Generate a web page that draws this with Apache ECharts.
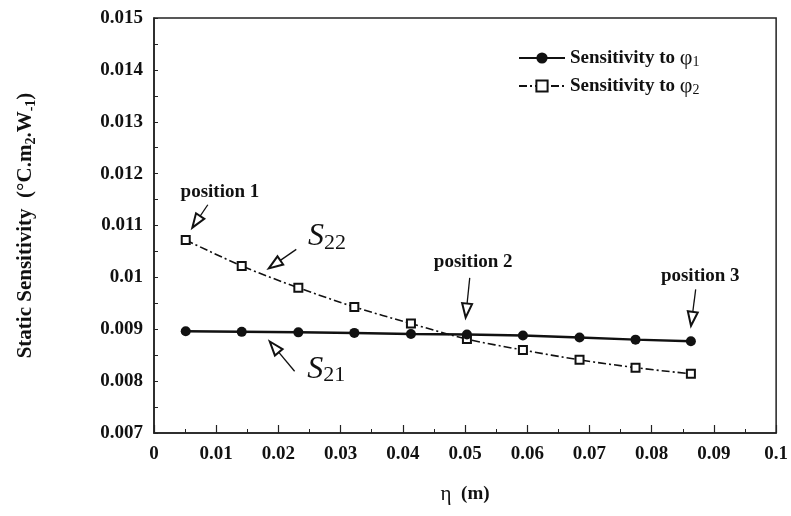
<!DOCTYPE html>
<html>
<head>
<meta charset="utf-8">
<script src="https://cdn.jsdelivr.net/npm/echarts@6/dist/echarts.min.js"></script>
<style>
html,body{margin:0;padding:0;background:#fff;}
#chart{width:791px;height:516px;}
</style>
</head>
<body>
<div id="chart"></div>
<script>
// ---- data ----
const etaValues = [0.0051, 0.0141, 0.0232, 0.0322, 0.0413, 0.0503, 0.0593, 0.0684, 0.0774, 0.0863];
const s21Values = [0.00896, 0.00895, 0.00894, 0.00893, 0.00891, 0.00890, 0.00888, 0.00884, 0.00880, 0.00877];
const s22Values = [0.01072, 0.01022, 0.00980, 0.00943, 0.00911, 0.00881, 0.00860, 0.00841, 0.00826, 0.00814];
const seriesNames = ['Sensitivity to φ1', 'Sensitivity to φ2'];
const xTicks = {min: 0, max: 0.1, interval: 0.01};
const yTicks = {min: 0.007, max: 0.015, interval: 0.001};
// annotation text & anchor points (data coordinates)
const annoTexts = ['position 1', 'position 2', 'position 3'];
const annoTextAt = [[0.0106, 0.01165], [0.0513, 0.01030], [0.0878, 0.01003]];
const arrowFrom = [[0.00865, 0.01140], [0.05075, 0.00999], [0.08707, 0.00977], [0.02287, 0.01054], [0.0226, 0.00819]];
const arrowTo   = [[0.00679, 0.01107], [0.05021, 0.00936], [0.08646, 0.00920], [0.01938, 0.01025], [0.01933, 0.00866]];
const sLabels = [['S', '22'], ['S', '21']];
const sLabelAt = [[0.0278, 0.01078], [0.0277, 0.00822]];

const serif = '"Liberation Serif", "DejaVu Serif", serif';
const chart = echarts.init(document.getElementById('chart'));

const pairs = (xs, ys) => xs.map((x, i) => [x, ys[i]]);

const markPointData = [];
annoTexts.forEach((t, i) => {
  markPointData.push({coord: annoTextAt[i], label: {formatter: t, fontFamily: serif, fontWeight: 'bold', fontSize: 19, color: '#111'}});
});
sLabels.forEach((s, i) => {
  markPointData.push({coord: sLabelAt[i], label: {
    formatter: '{s|' + s[0] + '}{n|' + s[1] + '}',
    rich: {
      s: {fontFamily: serif, fontStyle: 'italic', fontSize: 32, lineHeight: 34, color: '#111'},
      n: {fontFamily: serif, fontSize: 22, lineHeight: 19, verticalAlign: 'bottom', color: '#111'}
    }
  }});
});

const markLineData = arrowFrom.map((f, i) => [{coord: f}, {coord: arrowTo[i]}]);

const option = {
  animation: false,
  backgroundColor: '#fff',
  grid: {left: 154, right: 13, top: 18, bottom: 83, show: true, borderColor: '#222', borderWidth: 1.5, backgroundColor: 'transparent'},
  legend: {
    orient: 'vertical', left: 513, top: 42, itemWidth: 46, itemHeight: 14, itemGap: 6,
    data: seriesNames,
    formatter: function (name) {
      const idx = seriesNames.indexOf(name) + 1;
      return '{t|Sensitivity to }{p|φ}{sub|' + idx + '}';
    },
    textStyle: {
      color: '#111',
      rich: {
        t: {fontFamily: serif, fontWeight: 'bold', fontSize: 19, lineHeight: 22},
        p: {fontFamily: serif, fontSize: 22, lineHeight: 22},
        sub: {fontFamily: serif, fontSize: 14, lineHeight: 4, verticalAlign: 'bottom'}
      }
    }
  },
  xAxis: {
    type: 'value', min: xTicks.min, max: xTicks.max, interval: xTicks.interval,
    name: '{e|η}{m|  (m)}', nameLocation: 'middle', nameGap: 51,
    nameTextStyle: {rich: {
      e: {fontFamily: serif, fontSize: 21, color: '#111'},
      m: {fontFamily: serif, fontSize: 19, fontWeight: 'bold', color: '#111'}
    }},
    axisLine: {lineStyle: {color: '#222', width: 1.5}},
    axisTick: {inside: true, length: 8, lineStyle: {color: '#222', width: 1.2}},
    minorTick: {show: true, splitNumber: 2, length: 4, lineStyle: {color: '#222', width: 1}},
    splitLine: {show: false},
    axisLabel: {fontFamily: serif, fontWeight: 'bold', fontSize: 19, color: '#111', margin: 12}
  },
  yAxis: {
    type: 'value', min: yTicks.min, max: yTicks.max, interval: yTicks.interval,
    name: '{t|Static Sensitivity  (°C.m}{sub|2}{t|.W}{sub|-1}{t|)}', nameLocation: 'middle', nameGap: 116,
    nameTextStyle: {rich: {
      t: {fontFamily: serif, fontWeight: 'bold', fontSize: 21, lineHeight: 24, color: '#111'},
      sub: {fontFamily: serif, fontWeight: 'bold', fontSize: 14, lineHeight: 8, verticalAlign: 'bottom', color: '#111'}
    }},
    axisLine: {lineStyle: {color: '#222', width: 1.5}},
    axisTick: {inside: true, length: 4, lineStyle: {color: '#222', width: 1}},
    minorTick: {show: true, splitNumber: 2, length: 4, lineStyle: {color: '#222', width: 1}},
    splitLine: {show: false},
    axisLabel: {fontFamily: serif, fontWeight: 'bold', fontSize: 19, color: '#111', margin: 11}
  },
  series: [
    {
      name: seriesNames[0], type: 'line', data: pairs(etaValues, s21Values),
      symbol: 'circle', symbolSize: 10,
      lineStyle: {color: '#111', width: 2.5},
      itemStyle: {color: '#111'},
      z: 3
    },
    {
      name: seriesNames[1], type: 'line', data: pairs(etaValues, s22Values), smooth: 0.3,
      symbol: 'emptyRect', symbolSize: 8,
      lineStyle: {color: '#111', width: 1.6, type: [8, 3, 2, 3]},
      itemStyle: {color: '#111', borderWidth: 2},
      z: 2,
      markPoint: {symbol: 'circle', symbolSize: 0, silent: true, label: {show: true, position: 'inside'}, data: markPointData},
      markLine: {
        silent: true, symbol: ['none', 'emptyTriangle'], symbolSize: [10, 14],
        lineStyle: {color: '#111', width: 1.3, type: 'solid'},
        label: {show: false},
        data: markLineData
      }
    }
  ]
};
chart.setOption(option);
</script>
</body>
</html>
